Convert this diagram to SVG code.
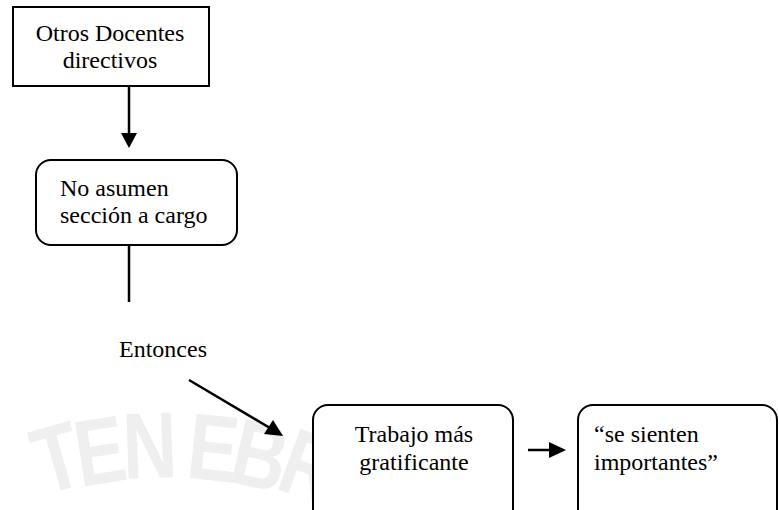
<svg xmlns="http://www.w3.org/2000/svg" width="779" height="510" viewBox="0 0 779 510">
<style>
  .box { fill: #fff; stroke: #000; stroke-width: 2; }
  .t { font-family: "Liberation Serif", "Times New Roman", serif; font-size: 24px; fill: #000; }
  .c { text-anchor: middle; }
  .conn { stroke: #000; stroke-width: 2.5; fill: none; }
  .head { fill: #000; }
  .wm { font-family: "Liberation Sans", Arial, sans-serif; font-weight: bold; font-size: 94px; fill: #efefef; text-anchor: middle; }
</style>
<rect width="779" height="510" fill="#fff"/>
<g id="watermark">
  <text class="wm" transform="translate(66,489) rotate(-16) scale(0.8,1)">T</text>
  <text class="wm" transform="translate(105,483) rotate(-9) scale(0.8,1)">E</text>
  <text class="wm" transform="translate(151,478) rotate(-2) scale(0.8,1)">N</text>
  <text class="wm" transform="translate(210,480) rotate(6) scale(0.8,1)">E</text>
  <text class="wm" transform="translate(253,487) rotate(13) scale(0.8,1)">B</text>
  <text class="wm" transform="translate(299,497) rotate(20) scale(0.8,1)">R</text>
</g>
<g id="connectors">
  <line class="conn" x1="129" y1="82" x2="129" y2="134"/>
  <path class="head" d="M121,133 L137,133 L129,148 z"/>
  <line class="conn" x1="129" y1="245" x2="129" y2="302"/>
  <line class="conn" x1="189" y1="380" x2="270" y2="428"/>
  <path class="head" d="M264,434 L273,420 L283,436 z"/>
  <line class="conn" x1="528" y1="450" x2="550" y2="450"/>
  <path class="head" d="M549,442 L566,450 L549,458 z"/>
</g>
<g id="n1">
  <rect class="box" x="13" y="7" width="196" height="79"/>
  <text class="t c" x="110" y="41">Otros Docentes</text>
  <text class="t c" x="110" y="68">directivos</text>
</g>
<g id="n2">
  <rect class="box" x="36" y="160" width="201" height="85" rx="15" ry="15"/>
  <text class="t" x="60" y="196">No asumen</text>
  <text class="t" x="60" y="223">sección a cargo</text>
</g>
<g id="lbl">
  <text class="t" x="119" y="357">Entonces</text>
</g>
<g id="n3">
  <rect class="box" x="313" y="405" width="200" height="125" rx="15" ry="15"/>
  <text class="t c" x="414" y="442">Trabajo más</text>
  <text class="t c" x="414" y="470">gratificante</text>
</g>
<g id="n4">
  <rect class="box" x="578" y="405" width="199" height="125" rx="15" ry="15"/>
  <text class="t" x="594" y="442">“se sienten</text>
  <text class="t" x="594" y="470">importantes”</text>
</g>
</svg>
